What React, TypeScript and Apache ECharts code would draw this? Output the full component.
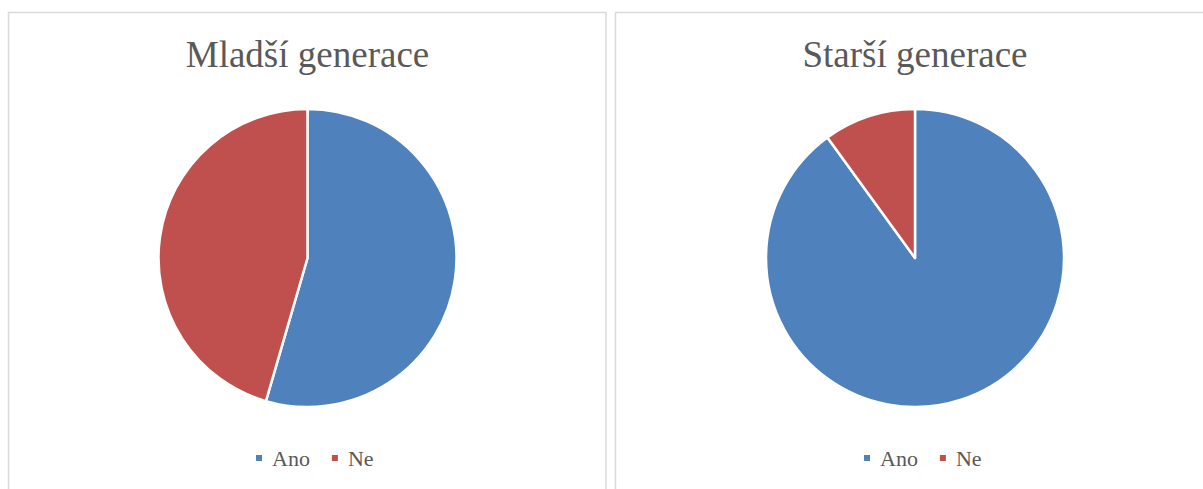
import React, { useEffect, useRef } from "react";
import * as echarts from "echarts";

const categories = ["Ano", "Ne"];
const titles = ["Mladší generace", "Starší generace"];
const youngerValues = [54.5, 45.5];
const olderValues = [90, 10];
const colors = ["#4F81BD", "#C0504D"];

const FONT = "'Liberation Serif', 'Times New Roman', serif";

export default function App() {
  const ref = useRef<HTMLDivElement>(null);
  useEffect(() => {
    if (!ref.current) return;
    const chart = echarts.init(ref.current, undefined, { renderer: "svg" });
    const panels = [
      { x: 8.5, w: 597.5, cx: 307.5, legendLeft: 254 },
      { x: 615.5, w: 600, cx: 915, legendLeft: 862 },
    ];
    const datasets = [youngerValues, olderValues];
    chart.setOption({
      animation: false,
      color: colors,
      graphic: [
        ...panels.map((p) => ({
          type: "rect",
          silent: true,
          z: -10,
          shape: { x: p.x, y: 12.5, width: p.w, height: 500 },
          style: { fill: "#ffffff", stroke: "#d9d9d9", lineWidth: 1.5 },
        })),
        ...panels.map((p, i) => ({
          type: "text",
          x: p.cx,
          y: 54,
          style: {
            text: titles[i],
            font: `37px ${FONT}`,
            fill: "#595959",
            align: "center",
            verticalAlign: "middle",
          },
        })),
      ],
      legend: panels.map((p) => ({
        data: categories,
        left: p.legendLeft,
        top: 447,
        padding: 0,
        orient: "horizontal",
        icon: "rect",
        itemWidth: 8,
        itemHeight: 8,
        itemGap: 20,
        selectedMode: false,
        textStyle: {
          fontFamily: FONT,
          fontSize: 22,
          color: "#595959",
          lineHeight: 22,
          padding: [0, 0, 0, 4],
        },
      })),
      series: panels.map((p, i) => ({
        type: "pie",
        center: [p.cx, 258],
        radius: 149,
        startAngle: 90,
        clockwise: true,
        silent: true,
        label: { show: false },
        labelLine: { show: false },
        itemStyle: { borderColor: "#ffffff", borderWidth: 2.5 },
        data: categories.map((c, j) => ({ name: c, value: datasets[i][j] })),
      })),
    });
    return () => chart.dispose();
  }, []);
  return (
    <div
      ref={ref}
      style={{ position: "absolute", left: 0, top: 0, width: 1203, height: 489, background: "#fff" }}
    />
  );
}
